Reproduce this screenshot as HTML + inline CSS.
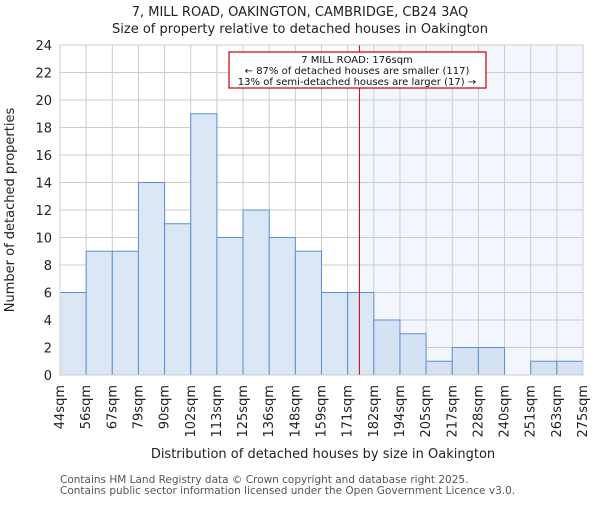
<!DOCTYPE html>
<html><head><meta charset="utf-8"><style>body{margin:0;background:#fff}svg{font-family:"DejaVu Sans","Liberation Sans",sans-serif}</style></head>
<body>
<svg id="c" width="600" height="500" xmlns="http://www.w3.org/2000/svg"></svg>
<script>
const categories=["44sqm","56sqm","67sqm","79sqm","90sqm","102sqm","113sqm","125sqm","136sqm","148sqm","159sqm","171sqm","182sqm","194sqm","205sqm","217sqm","228sqm","240sqm","251sqm","263sqm","275sqm"];
const counts=[6,9,9,14,11,19,10,12,10,9,6,6,4,3,1,2,2,0,1,1];
const yTicks=[0,2,4,6,8,10,12,14,16,18,20,22,24];
const propertyBin=11.45;
const L=60,R=583,T=45,B=375,yMax=24;
const svg=document.getElementById('c');const NS='http://www.w3.org/2000/svg';
const bw=(R-L)/counts.length;
const x=i=>L+i*bw, y=v=>B-(v/yMax)*(B-T);
function mk(t,a,p,txt){const e=document.createElementNS(NS,t);for(const k in a)e.setAttribute(k,a[k]);if(txt!==undefined)e.textContent=String(txt);(p||svg).appendChild(e);return e;}
const px=x(propertyBin);
let e=mk('rect',{x:px,y:T,width:R-px,height:B-T,fill:'#f3f6fd'});


yTicks.forEach(t=>{mk('line',{x1:L,x2:R,y1:y(t),y2:y(t),stroke:'#cccccc','stroke-width':1});
const l=mk('text',{x:L-8,y:y(t)+5,'text-anchor':'end','font-size':13,fill:'#222'},null,t);

});
categories.forEach((c,i)=>{mk('line',{x1:x(i),x2:x(i),y1:T,y2:B,stroke:'#cccccc','stroke-width':1});
const tx=x(i)+4,ty=B+10;
const l=mk('text',{x:tx,y:ty,transform:`rotate(-90 ${tx} ${ty})`,'text-anchor':'end','font-size':13,fill:'#222'},null,c);

});
counts.forEach((v,i)=>{if(v<=0)return;const r=mk('rect',{x:x(i),y:y(v),width:bw,height:B-y(v),fill:i>=12?'#d5e2f4':'#dce7f5',stroke:'#5b8fd6','stroke-width':1});

});
e=mk('line',{x1:px,x2:px,y1:T,y2:B,stroke:'#cc0000','stroke-width':1});


mk('rect',{x:L,y:T,width:R-L,height:B-T,fill:'none',stroke:'#cccccc'});
const g=mk('g',{});


mk('rect',{x:229,y:52,width:257,height:36,fill:'#fff',stroke:'#cc0000','stroke-width':1.2},g);
["7 MILL ROAD: 176sqm","← 87% of detached houses are smaller (117)","13% of semi-detached houses are larger (17) →"].forEach((s,i)=>mk('text',{x:357,y:63+i*11,'text-anchor':'middle','font-size':10,fill:'#111'},g,s));
e=mk('text',{x:300,y:16,'text-anchor':'middle','font-size':13,fill:'#222'},null,'7, MILL ROAD, OAKINGTON, CAMBRIDGE, CB24 3AQ');


e=mk('text',{x:300,y:33,'text-anchor':'middle','font-size':13,fill:'#222'},null,'Size of property relative to detached houses in Oakington');


e=mk('text',{x:323,y:458,'text-anchor':'middle','font-size':13,fill:'#222'},null,'Distribution of detached houses by size in Oakington');


e=mk('text',{x:14,y:210,transform:'rotate(-90 14 210)','text-anchor':'middle','font-size':13,fill:'#222'},null,'Number of detached properties');


e=mk('text',{x:60,y:483,'font-size':10.5,fill:'#555'},null,'Contains HM Land Registry data © Crown copyright and database right 2025.');


e=mk('text',{x:60,y:494,'font-size':10.5,fill:'#555'},null,'Contains public sector information licensed under the Open Government Licence v3.0.');


</script>
</body></html>
